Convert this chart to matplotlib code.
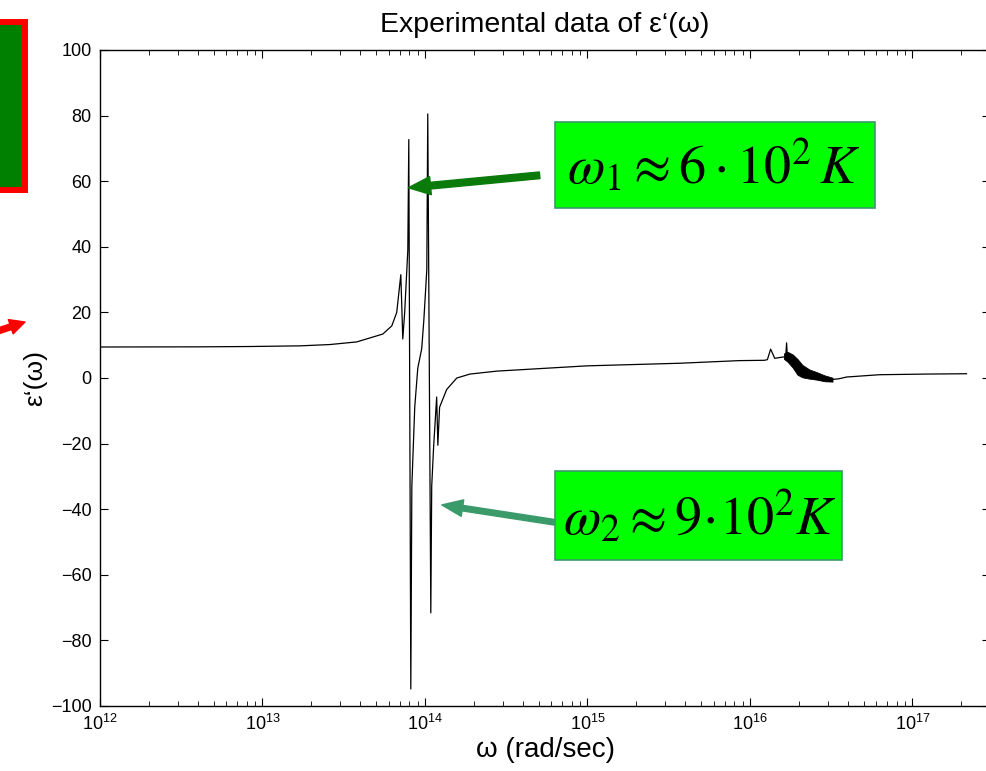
import matplotlib
matplotlib.use('Agg')
import matplotlib.pyplot as plt
from matplotlib.patches import Rectangle, FancyArrowPatch
from matplotlib.ticker import LogLocator

# epsilon'(omega)
omega = [1.0e12, 4.1e12, 8.4e12, 1.7e13, 2.6e13, 3.8e13, 5.5e13, 6.25e13, 6.7e13,
         7.1e13, 7.3e13, 7.5e13, 7.84e13, 7.95e13, 8.18e13, 8.30e13, 8.65e13, 9.03e13,
         9.55e13, 9.84e13, 1.026e14, 1.04e14, 1.086e14, 1.10e14, 1.13e14, 1.18e14,
         1.20e14, 1.23e14, 1.36e14, 1.57e14, 1.89e14, 2.77e14, 9.9e14, 3.7e15, 8.6e15,
         1.23e16, 1.28e16, 1.34e16, 1.42e16, 1.55e16, 1.66e16, 1.68e16, 1.70e16,
         1.83e16, 1.96e16, 2.10e16, 2.32e16, 2.57e16, 2.88e16, 3.22e16, 3.56e16,
         3.93e16, 6.27e16, 1.22e17, 2.15e17]
eps = [9.45, 9.5, 9.6, 9.8, 10.2, 11.0, 13.4, 15.9, 20.0,
       31.5, 11.9, 20.0, 39.0, 72.7, -94.8, -33.0, -8.8, 3.0,
       9.0, 17.7, 33.0, 80.5, -71.6, -33.0, -21.0, -5.8,
       -20.5, -8.9, -3.5, 0.0, 1.2, 2.1, 3.7, 4.5, 5.3,
       5.4, 5.6, 8.8, 6.0, 6.3, 6.5, 10.7, 6.0,
       5.2, 3.3, 2.0, 1.2, 0.7, 0.0, -0.45, -0.2,
       0.3, 1.0, 1.2, 1.3]

# noisy region drawn as a filled band
band_omega = [1.62e16, 1.70e16, 1.83e16, 1.96e16, 2.10e16, 2.32e16, 2.57e16, 2.88e16, 3.22e16]
band_upper = [7.5, 8.0, 7.2, 5.8, 4.0, 2.6, 1.8, 0.8, 0.1]
band_lower = [5.8, 5.0, 3.2, 1.0, 0.2, -0.2, -0.5, -1.0, -1.1]

plt.rcParams['font.family'] = ['Liberation Sans', 'DejaVu Sans']
plt.rcParams['mathtext.fontset'] = 'custom'
plt.rcParams['mathtext.rm'] = 'Liberation Sans'
plt.rcParams['mathtext.it'] = 'Liberation Sans:italic'
plt.rcParams['mathtext.bf'] = 'Liberation Sans:bold'

W, H = 987, 771
fig = plt.figure(figsize=(W / 100, H / 100), dpi=100)
ax = fig.add_axes([100 / W, 65 / H, 890 / W, 656 / H])

ax.plot(omega, eps, color='black', lw=0.9)
ax.fill_between(band_omega, band_lower, band_upper, color='black', lw=0.6)

ax.set_xscale('log')
ax.set_xlim(1e12, 3e17)
ax.set_ylim(-100, 100)
ax.set_yticks(range(-100, 101, 20))
ax.xaxis.set_major_locator(LogLocator(base=10, numticks=10))
ax.xaxis.set_minor_locator(LogLocator(base=10, subs=range(2, 10), numticks=100))
ax.tick_params(which='both', direction='in', top=True, right=True, labelsize=13)
ax.tick_params(which='major', length=6, width=0.8, pad=6)
ax.tick_params(which='minor', length=3.5, width=0.6)
for s in ax.spines.values():
    s.set_linewidth(1.0)

ax.set_title('Experimental data of ε‘(ω)', fontsize=20.5, pad=13)
ax.set_xlabel('ω (rad/sec)', fontsize=20, labelpad=2)
ax.set_ylabel('ε‘(ω)', fontsize=19, labelpad=3)

# annotation boxes
boxes = [((0.511, 0.759), 0.360, 0.131, r'$\omega_1 \approx 6\cdot10^2\,K$', (0.690, 0.822)),
         ((0.511, 0.2226), 0.323, 0.135, r'$\omega_2 \approx 9\!\cdot\!10^2 K$', (0.674, 0.287))]
for (x0, y0), bw, bh, label, (tx, ty) in boxes:
    ax.add_patch(Rectangle((x0, y0), bw, bh, transform=ax.transAxes, facecolor='#00ff00',
                           edgecolor='#3a9a6a', lw=1.2, clip_on=False, zorder=3))
    ax.text(tx, ty, label, transform=ax.transAxes, ha='center', va='center',
            fontsize=39, math_fontfamily='stix', zorder=4)

ax.annotate('', xy=(7.9e13, 58), xytext=(0.494, 0.809), textcoords='axes fraction',
            arrowprops=dict(arrowstyle='simple,head_length=0.8,head_width=0.65,tail_width=0.24',
                            color='#0a7a0a', mutation_scale=20, shrinkA=0, shrinkB=0), zorder=5)
ax.annotate('', xy=(1.27e14, -38.7), xytext=(0.511, 0.280), textcoords='axes fraction',
            arrowprops=dict(arrowstyle='simple,head_length=0.75,head_width=0.6,tail_width=0.2',
                            color='#3a9a6a', mutation_scale=20, shrinkA=0, shrinkB=0), zorder=5)

# fragments of the slide at the left edge
fig.add_artist(Rectangle((-5 / W, 1 - 190 / H), 30 / W, 168 / H, transform=fig.transFigure,
                         facecolor='#008000', edgecolor='#ff0000', lw=4.3))
fig.add_artist(FancyArrowPatch((-2 / W, 1 - 331 / H), (25 / W, 1 - 322 / H),
                               transform=fig.transFigure, color='#ff0000',
                               arrowstyle='simple,head_length=0.9,head_width=0.9,tail_width=0.35',
                               mutation_scale=12, shrinkA=0, shrinkB=0))

fig.savefig('out.png', dpi=100)
